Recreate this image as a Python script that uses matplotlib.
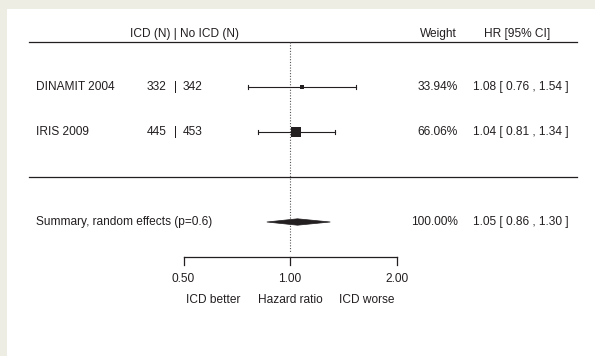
import matplotlib
matplotlib.use("Agg")
import matplotlib.pyplot as plt
from matplotlib.patches import Polygon
import numpy as np

plt.rcParams['font.family'] = ['Liberation Sans', 'DejaVu Sans']

# ---- data ----
studies = ["DINAMIT 2004", "IRIS 2009"]
n_icd = [332, 445]
n_noicd = [342, 453]
hr = [1.08, 1.04]
ci_lo = [0.76, 0.81]
ci_hi = [1.54, 1.34]
weights = [33.94, 66.06]
summary_label = "Summary, random effects (p=0.6)"
summary_hr = 1.05
summary_lo = 0.86
summary_hi = 1.30
summary_weight = 100.00
xticks = [0.5, 1.0, 2.0]
xtick_labels = ["0.50", "1.00", "2.00"]

# ---- layout ----
W, H = 595, 356
fig = plt.figure(figsize=(W / 100, H / 100), dpi=100)
fig.patch.set_facecolor("#eeede3")

bg = fig.add_axes([7 / W, 0, 1 - 7 / W, 1 - 9 / H], zorder=0)
bg.set_facecolor("white")
bg.set_xticks([]); bg.set_yticks([])
for s in bg.spines.values():
    s.set_visible(False)

ax = fig.add_axes([0, 0, 1, 1], zorder=1)
ax.set_facecolor("none")
ax.axis("off")
ax.set_xscale("log")
# pixel x = 290 + 106.5*log2(v)
px_per = 106.5
def px2v(p):
    return 2 ** ((p - 290) / px_per)
ax.set_xlim(px2v(0), px2v(W))
# rows: y unit = 45 px, row 1 at pixel 87
ax.set_ylim(1 + (H - 87) / 45, 1 - 87 / 45)

def py(p):
    return 1 + (p - 87) / 45

tc = "#231f20"
fs = 8.6
trans_x = ax.get_yaxis_transform()  # x in axes fraction, y in data

def fx(p):
    return p / W

# horizontal rules
ax.plot([fx(29), fx(577)], [py(42), py(42)], color=tc, lw=0.9, transform=trans_x)
ax.plot([fx(29), fx(577)], [py(177), py(177)], color=tc, lw=0.9, transform=trans_x)

# reference line at 1
ax.plot([1, 1], [py(42), py(252)], color="#555555", lw=0.8, ls=(0, (1, 1.5)))

# header
hy = py(34)
ax.text(fx(184), hy, "ICD (N) | No ICD (N)", ha="center", va="center", fontsize=fs, color=tc, transform=trans_x)
ax.text(fx(457), hy, "Weight", ha="right", va="center", fontsize=fs, color=tc, transform=trans_x)
ax.text(fx(517), hy, "HR [95% CI]", ha="center", va="center", fontsize=fs, color=tc, transform=trans_x)

# study rows
wmin, wmax = min(weights), max(weights)
for i, name in enumerate(studies):
    y = i + 1
    ax.text(fx(36), y, name, ha="left", va="center", fontsize=fs, color=tc, transform=trans_x)
    ax.text(fx(166.5), y, str(n_icd[i]), ha="right", va="center", fontsize=fs, color=tc, transform=trans_x)
    ax.text(fx(175.5), y, "|", ha="center", va="center", fontsize=fs, color=tc, transform=trans_x)
    ax.text(fx(183), y, str(n_noicd[i]), ha="left", va="center", fontsize=fs, color=tc, transform=trans_x)
    ax.text(fx(458), y, f"{weights[i]:.2f}%", ha="right", va="center", fontsize=fs, color=tc, transform=trans_x)
    ax.text(fx(569), y, f"{hr[i]:.2f} [ {ci_lo[i]:.2f} , {ci_hi[i]:.2f} ]", ha="right", va="center",
            fontsize=fs, color=tc, transform=trans_x)
    # CI line and caps
    ax.plot([ci_lo[i], ci_hi[i]], [y, y], color=tc, lw=0.8)
    for c in (ci_lo[i], ci_hi[i]):
        ax.plot([c, c], [y - 2 / 45, y + 2 / 45], color=tc, lw=0.8)
    # square sized by weight
    psize = 0.5 + (weights[i] - wmin) / (wmax - wmin)
    side_px = 6.2 * psize
    ax.plot([hr[i]], [y], marker="s", ms=side_px * 0.72, color=tc, mec=tc, mew=0, zorder=3)

# summary row
sy = py(222)
ax.text(fx(36), sy, summary_label, ha="left", va="center", fontsize=fs, color=tc, transform=trans_x)
ax.text(fx(458), sy, f"{summary_weight:.2f}%", ha="right", va="center", fontsize=fs, color=tc, transform=trans_x)
ax.text(fx(569), sy, f"{summary_hr:.2f} [ {summary_lo:.2f} , {summary_hi:.2f} ]", ha="right", va="center",
        fontsize=fs, color=tc, transform=trans_x)
dh = 3.2 / 45
diamond = Polygon([[summary_lo, sy], [summary_hr, sy - dh], [summary_hi, sy], [summary_hr, sy + dh]],
                  closed=True, facecolor=tc, edgecolor=tc, lw=0.5, zorder=3)
ax.add_patch(diamond)

# x axis
ay = py(257)
ax.plot([xticks[0], xticks[-1]], [ay, ay], color=tc, lw=0.9)
for t, lab in zip(xticks, xtick_labels):
    ax.plot([t, t], [ay, ay + 8 / 45], color=tc, lw=0.9)
    ax.text(t, py(279), lab, ha="center", va="center", fontsize=fs, color=tc)

ax.text(fx(213), py(300), "ICD better", ha="center", va="center", fontsize=fs, color=tc, transform=trans_x)
ax.text(1.0, py(300), "Hazard ratio", ha="center", va="center", fontsize=fs, color=tc)
ax.text(fx(367), py(300), "ICD worse", ha="center", va="center", fontsize=fs, color=tc, transform=trans_x)

fig.savefig("out.png", dpi=100, facecolor=fig.get_facecolor())
